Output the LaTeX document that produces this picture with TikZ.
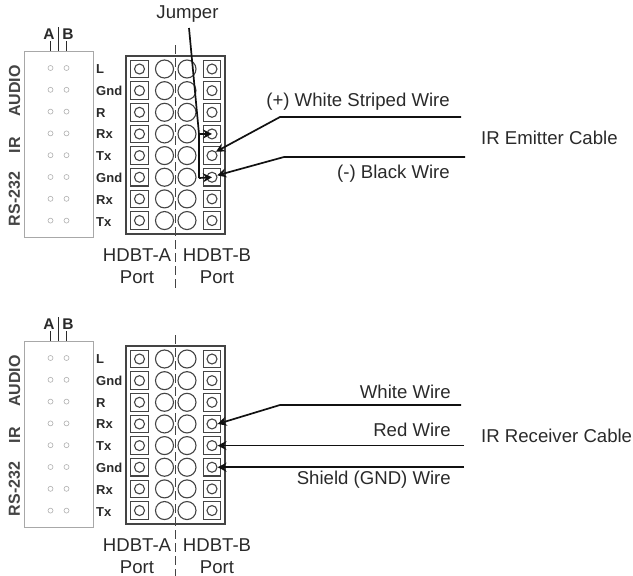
\documentclass[tikz,border=0pt]{standalone}
\usepackage{fontspec}
\setmainfont{Liberation Sans}
\usetikzlibrary{arrows.meta}
\definecolor{ink}{HTML}{2A2A2A}
\definecolor{wirecol}{HTML}{111111}
\definecolor{panel}{HTML}{A8A8A8}
\definecolor{pin}{HTML}{B0B0B0}
\definecolor{termcol}{HTML}{444444}
\tikzset{
  panelbox/.style={draw=panel,line width=1pt,fill=white},
  pinhole/.style={circle,draw=pin,line width=.6pt,minimum size=5pt,inner sep=0pt},
  tick/.style={draw=ink,line width=1.3pt},
  ablabel/.style={inner sep=0pt,font=\bfseries\fontsize{15.5}{17}\selectfont,text=ink},
  pinlabel/.style={font=\bfseries\fontsize{13}{14}\selectfont,text=ink,anchor=west,inner sep=0pt},
  sidelabel/.style={font=\bfseries\fontsize{16}{18}\selectfont,text=termcol,rotate=90,inner sep=0pt},
  blockframe/.style={draw=termcol,line width=1.2pt},
  sqterm/.style={draw=termcol,line width=1.1pt,minimum size=17.5pt,inner sep=0pt},
  smallc/.style={circle,draw=termcol,line width=1.1pt,minimum size=10pt,inner sep=0pt},
  bigc/.style={circle,draw=termcol,line width=1.1pt,minimum size=18pt,inner sep=0pt},
  portlabel/.style={font=\fontsize{18.6}{22}\selectfont,text=ink,align=center,inner sep=0pt},
  wirelabel/.style={font=\fontsize{18.6}{22}\selectfont,text=ink,inner sep=0pt},
  wire/.style={draw=wirecol,line width=1.7pt},
  wirearrow/.style={wire,-{Stealth[length=9pt,width=9pt]}},
  dashsep/.style={draw=termcol,line width=1pt,dash pattern=on 9pt off 4pt},
}
\newcommand{\hdbtunit}[2]{%
  \begin{scope}[shift={(0,#1)}]
    \node[ablabel] (#2lA) at (49,34) {A};
    \node[ablabel] (#2lB) at (68,34) {B};
    \draw[panelbox] (24,51) rectangle (93,237);
    \draw[tick] (50.5,41) -- (50.5,51);
    \draw[tick] (66.5,41) -- (66.5,51);
    \draw[tick] (58.5,27) -- (58.5,51);
    \node[sidelabel] (#2audio) at (14.5,91) {AUDIO};
    \node[sidelabel] (#2ir) at (14.5,145) {IR};
    \node[sidelabel] (#2rs) at (14.5,199) {RS-232};
    \draw[blockframe] (126,56) rectangle (225,234);
    \foreach \lab [count=\i from 0] in {L,Gnd,R,Rx,Tx,Gnd,Rx,Tx}{
      \pgfmathsetmacro{\ya}{68+21.8*\i}
      \pgfmathsetmacro{\yb}{69+21.65*\i}
      \node[pinhole] (#2pa\i) at (50.5,\ya) {};
      \node[pinhole] (#2pb\i) at (66.5,\ya) {};
      \node[pinlabel] (#2t\i) at (96,\ya+1) {\lab};
      \node[sqterm] (#2sl\i) at (139.5,\yb) {};
      \node[smallc] (#2cl\i) at (139.5,\yb) {};
      \node[bigc] (#2bl\i) at (164.5,\yb) {};
      \node[bigc] (#2br\i) at (187,\yb) {};
      \node[sqterm] (#2sr\i) at (212,\yb) {};
      \node[smallc] (#2cr\i) at (212,\yb) {};
    }
    \draw[dashsep] (175,45) -- (175,288);
    \node[portlabel,anchor=center] (#2pA) at (137,266) {HDBT-A\\Port};
    \node[portlabel,anchor=center] (#2pB) at (217,266) {HDBT-B\\Port};
  \end{scope}
}
\begin{document}
\begin{tikzpicture}[x=1pt,y=-1pt]
\useasboundingbox (0,0) rectangle (633,576);
\hdbtunit{0}{u}
\hdbtunit{290}{v}
% top unit
\node[wirelabel] (jumper) at (187.5,14) {Jumper};
\coordinate (jtop) at (189,28);
\coordinate (jknee) at (199,134);
\coordinate (jlow) at (199,178);
\draw[wire] (jtop) -- (jknee) -- (jlow);
\draw[wirearrow] (jknee) -- (ucr3.center);
\draw[wirearrow] (jlow) -- (ucr5.center);
\node[wirelabel,anchor=east] (whitestr) at (450,102) {(+) White Striped Wire};
\node[wirelabel,anchor=east] (black) at (450,174) {(-) Black Wire};
\node[wirelabel,anchor=west] (emit) at (481,138) {IR Emitter Cable};
\coordinate (w1e) at (461,117);
\coordinate (w1k) at (280,117);
\coordinate (w2e) at (465,157);
\coordinate (w2k) at (284,157);
\draw[wirearrow] (w1e) -- (w1k) -- (ucr4.north east);
\draw[wirearrow] (w2e) -- (w2k) -- (ucr5.20);
% bottom unit
\node[wirelabel,anchor=east] (white) at (451,392) {White Wire};
\node[wirelabel,anchor=east] (red) at (451,430) {Red Wire};
\node[wirelabel,anchor=east] (shield) at (451,480) {Shield (GND) Wire};
\node[wirelabel,anchor=west] (recv) at (481,436) {IR Receiver Cable};
\coordinate (w3e) at (461,405);
\coordinate (w3k) at (280,405);
\coordinate (w4e) at (464,445);
\coordinate (w5e) at (464,466);
\draw[wirearrow] (w3e) -- (w3k) -- (vcr3.east);
\draw[wirearrow] (w4e |- vcr4.east) -- (vcr4.east);
\draw[wirearrow] (w5e |- vcr5.east) -- (vcr5.east);
\end{tikzpicture}
\end{document}
